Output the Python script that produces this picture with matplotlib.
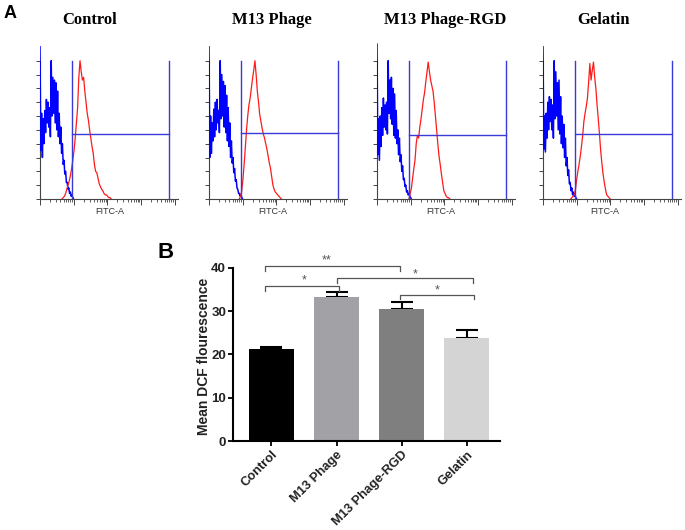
import numpy as np
import matplotlib
matplotlib.use("Agg")
import matplotlib.pyplot as plt

plt.rcParams['font.family'] = ['Liberation Sans', 'DejaVu Sans']

# ---------------- data ----------------
# Panel A: flow cytometry histograms (counts as % of max), FITC-A in log decades
hist_titles = ["Control", "M13 Phage", "M13 Phage-RGD", "Gelatin"]

blue_control = [110, 35, 62, 30, 58, 40, 64, 48, 72, 55, 70, 52, 66, 45, 100, 60, 88, 62, 86, 55,
                84, 50, 78, 45, 62, 40, 52, 33, 40, 25, 28, 18, 20, 12, 12, 7, 8, 4, 5, 2, 3, 1, 0]
blue_m13 = [110, 30, 60, 33, 55, 42, 65, 45, 70, 50, 72, 55, 64, 48, 100, 58, 90, 60, 85, 52,
            82, 48, 75, 42, 66, 38, 55, 30, 42, 26, 30, 19, 22, 13, 14, 8, 7, 4, 4, 2, 3, 1, 0]
blue_rgd = [112, 32, 58, 28, 60, 38, 66, 46, 73, 52, 68, 50, 70, 47, 100, 62, 86, 58, 88, 54,
            80, 46, 76, 44, 64, 40, 50, 32, 44, 27, 32, 20, 24, 14, 15, 9, 10, 5, 6, 3, 4, 2, 1, 0]
blue_gelatin = [110, 36, 60, 34, 62, 44, 70, 50, 74, 56, 72, 50, 68, 44, 100, 58, 92, 60, 84, 50,
                86, 47, 74, 40, 60, 37, 54, 30, 44, 24, 30, 17, 21, 11, 12, 6, 8, 3, 5, 2, 3, 1, 0]

red_control = [0, 1, 2, 4, 7, 10, 13, 17, 22, 28, 35, 44, 55, 66, 88, 100, 92, 86, 88, 78,
               70, 62, 57, 50, 44, 38, 33, 25, 20, 19, 15, 11, 9, 7, 6, 4, 3, 3, 2, 1, 1, 0]
red_m13 = [0, 2, 6, 14, 25, 37, 50, 60, 68, 73, 80, 87, 93, 100, 90, 78, 70, 61, 56, 51,
           47, 44, 40, 36, 31, 26, 22, 16, 10, 7, 5, 4, 3, 2, 1, 0]
red_rgd = [0, 4, 8, 15, 22, 28, 40, 46, 44, 52, 58, 65, 72, 77, 85, 92, 99, 92, 86, 82,
           78, 70, 60, 50, 40, 31, 25, 18, 12, 6, 4, 2, 1, 1, 0]
red_gelatin = [0, 1, 2, 3, 7, 14, 20, 25, 31, 38, 46, 56, 62, 67, 73, 85, 98, 86, 93, 99,
               88, 80, 68, 58, 47, 35, 26, 18, 12, 7, 3, 2, 1, 0]

blue_start = [0.0, 0.0, 0.0, 0.0]          # decade where each blue histogram begins
red_start = [0.654, 0.901, 0.951, 0.822]   # decade where each red histogram begins
gate_level = [47.0, 47.7, 46.3, 47.0]      # horizontal gate height (% of max)

# Panel B: bar chart
categories = ["Control", "M13 Phage", "M13 Phage-RGD", "Gelatin"]
means = [21.2, 33.3, 30.6, 23.9]
sems = [0.5, 1.0, 1.4, 1.7]

# ---------------- figure ----------------
W, H = 685, 530
fig = plt.figure(figsize=(W / 100, H / 100), dpi=100)

PX_PER_DEC = 33.66
BLUE_STEP = 0.8 / PX_PER_DEC
RED_STEP = 1.2 / PX_PER_DEC
AX_W_PX, AX_H_PX = 138, 163
BOTTOM_PX = 199
PX_PER_UNIT_Y = 1.383

hist_lefts = [40, 209, 377, 543]
title_x = [90, 272, 445, 604]
fitc_x = [110, 273, 441, 605]
blues = [blue_control, blue_m13, blue_rgd, blue_gelatin]
reds = [red_control, red_m13, red_rgd, red_gelatin]

GATE_LO = 0.951
GATE_HI = 3.83
gate_color = "#3a3ad6"

xminor = [d + np.log10(k) for d in range(4) for k in range(2, 10)]
xmajor = [0, 1, 2, 3, 4]

for i in range(4):
    ax = fig.add_axes([hist_lefts[i] / W, 1 - BOTTOM_PX / H, AX_W_PX / W, AX_H_PX / H])
    ax.set_xlim(0, AX_W_PX / PX_PER_DEC)
    ax.set_ylim(0, AX_H_PX / PX_PER_UNIT_Y)
    bx = blue_start[i] + np.arange(len(blues[i])) * BLUE_STEP
    rx = red_start[i] + np.arange(len(reds[i])) * RED_STEP
    ax.plot(bx, blues[i], color="#0000ff", lw=1.1, zorder=3)
    ax.plot(rx, reds[i], color="#ff1a1a", lw=0.9, zorder=3)
    ax.plot([GATE_LO, GATE_LO], [0, 100], color=gate_color, lw=1.0, zorder=4)
    ax.plot([GATE_HI, GATE_HI], [0, 100], color=gate_color, lw=1.0, zorder=4)
    ax.plot([GATE_LO, GATE_HI], [gate_level[i], gate_level[i]], color=gate_color, lw=1.0, zorder=4)
    for s in ["top", "right"]:
        ax.spines[s].set_visible(False)
    ax.spines["left"].set_bounds(0, 100)
    ax.spines["left"].set_color("#444444")
    ax.spines["bottom"].set_color("#444444")
    ax.spines["left"].set_linewidth(0.8)
    ax.spines["bottom"].set_linewidth(0.8)
    ax.set_yticks(np.arange(0, 101, 10))
    ax.set_yticklabels([])
    ax.set_xticks(xmajor)
    ax.set_xticks(xminor, minor=True)
    ax.set_xticklabels([])
    ax.tick_params(axis="y", length=3, width=0.7, color="#444444", direction="out")
    ax.tick_params(axis="x", which="major", length=4, width=0.7, color="#444444", direction="out")
    ax.tick_params(axis="x", which="minor", length=2.5, width=0.6, color="#444444", direction="out")
    ax.patch.set_alpha(0)
    fig.text(fitc_x[i] / W, 1 - 211 / H, "FITC-A", ha="center", va="center",
             fontsize=6.5, color="#333333")
    fig.text(title_x[i] / W, 1 - 20 / H, hist_titles[i], ha="center", va="center",
             family=["Liberation Serif", "DejaVu Serif"], fontweight="bold", fontsize=12)

fig.text(10 / W, 1 - 14 / H, "A", ha="center", va="center", fontweight="bold", fontsize=13)
fig.text(166 / W, 1 - 252 / H, "B", ha="center", va="center", fontweight="bold", fontsize=16)

# ---------------- panel B ----------------
axb = fig.add_axes([233 / W, 1 - 441 / H, 267 / W, 173.2 / H])
xpos = np.arange(len(categories))
bar_colors = ["#000000", "#a2a1a6", "#7f7f7f", "#d4d4d4"]
axb.bar(xpos, means, width=0.69, color=bar_colors, zorder=2,
        yerr=[np.zeros(len(sems)), sems], capsize=8,
        error_kw=dict(ecolor="black", elinewidth=1.5, capthick=1.5, zorder=1))
axb.set_xlim(-0.59, 3.51)
axb.set_ylim(0, 40)
axb.set_yticks([0, 10, 20, 30, 40])
axb.set_xticks(xpos)
axb.set_xticklabels(categories, rotation=45, ha="right", rotation_mode="anchor",
                    fontweight="bold", fontsize=9.3, color="#222222")
for lab in axb.get_yticklabels():
    lab.set_fontweight("bold")
    lab.set_fontsize(9.5)
    lab.set_color("#222222")
axb.tick_params(axis="y", length=3.5, width=1.3, direction="out", pad=1.5)
axb.tick_params(axis="x", length=3.5, width=1.3, direction="out", pad=2)
for s in ["top", "right"]:
    axb.spines[s].set_visible(False)
axb.spines["left"].set_linewidth(1.5)
axb.spines["bottom"].set_linewidth(1.5)

fig.text(204 / W, 1 - 356 / H, "Mean DCF flourescence", rotation=90, ha="center", va="center",
         fontweight="bold", fontsize=10, color="#222222")

# significance brackets: (x_left, x_right, y_top, y_leg, label, label_x, label_y)
brackets = [(-0.097, 1.98, 40.4, 39.3, "**", 0.85, 41.6),
            (-0.097, 1.04, 35.9, 34.7, "*", 0.50, 37.1),
            (1.01, 3.10, 37.6, 36.6, "*", 2.20, 38.4),
            (1.98, 3.11, 33.7, 32.7, "*", 2.54, 34.8)]
for x1, x2, yt, yl, lab, lx, ly in brackets:
    axb.plot([x1, x1, x2, x2], [yl, yt, yt, yl], color="#555555", lw=0.9, clip_on=False, zorder=5)
    axb.text(lx, ly, lab, ha="center", va="center", fontsize=9, color="#555555", clip_on=False)

fig.savefig("out.png", dpi=100)
